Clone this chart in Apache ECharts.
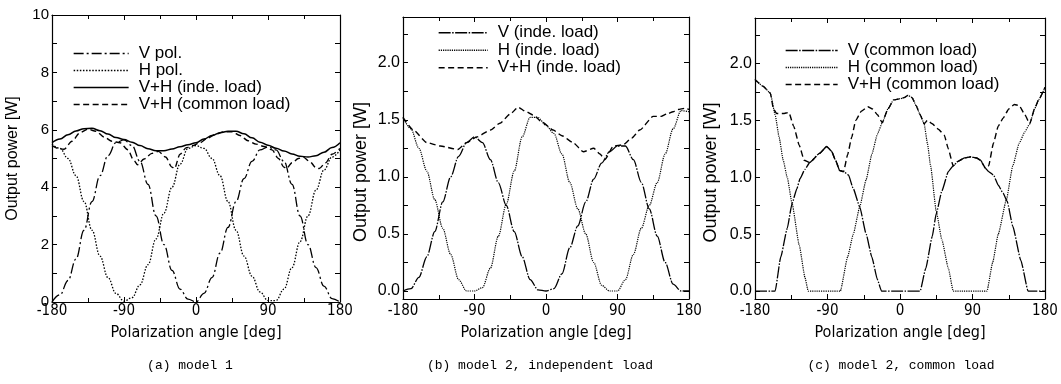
<!DOCTYPE html>
<html>
<head>
<meta charset="utf-8">
<script src="https://cdn.jsdelivr.net/npm/echarts@6/dist/echarts.min.js"></script>
<style>
  html, body { margin: 0; padding: 0; background: #fff; }
  #chart { width: 1061px; height: 384px; }
</style>
</head>
<body>
<div id="chart"></div>
<script>
// Polarization angle grid (deg) shared by the 10-degree sampled curves
const angles = [-180, -170, -160, -150, -140, -130, -120, -110, -100, -90, -80, -70, -60, -50, -40, -30, -20, -10,
  0, 10, 20, 30, 40, 50, 60, 70, 80, 90, 100, 110, 120, 130, 140, 150, 160, 170, 180];

// (a) model 1
const vPolA = [0, 0.25, 0.75, 1.5, 2.5, 3.5, 4.4, 5.1, 5.55, 5.65, 5.45, 4.9, 4.1, 3.0, 2.0, 1.1, 0.45, 0.1,
  0.0, 0.3, 0.85, 1.7, 2.6, 3.5, 4.3, 4.9, 5.3, 5.4, 5.3, 4.9, 4.1, 3.0, 2.0, 1.2, 0.55, 0.12, 0];
const hPolA = [5.5, 5.35, 5.0, 4.4, 3.5, 2.5, 1.6, 0.85, 0.3, 0.03, 0.15, 0.6, 1.3, 2.2, 3.1, 4.0, 4.8, 5.35,
  5.45, 5.35, 5.0, 4.4, 3.5, 2.5, 1.6, 0.9, 0.35, 0.05, 0.05, 0.45, 1.2, 2.1, 3.0, 3.9, 4.6, 5.05, 5.3];
const sumIndeA = [5.55, 5.68, 5.83, 5.96, 6.04, 6.05, 5.97, 5.85, 5.73, 5.66, 5.57, 5.45, 5.34, 5.27, 5.27, 5.33, 5.41, 5.48,
  5.55, 5.68, 5.8, 5.9, 5.95, 5.95, 5.86, 5.72, 5.57, 5.46, 5.36, 5.26, 5.16, 5.08, 5.05, 5.1, 5.22, 5.38, 5.55];
const sumCommonAngA = [-180, -170, -165, -155, -145, -135, -125, -115, -105, -95, -85, -78, -73, -65, -55, -47, -38, -30, -27, -20, -12, -4,
  5, 15, 25, 35, 45, 55, 65, 75, 85, 95, 103, 110, 113, 120, 128, 134, 142, 150, 154, 162, 170, 180];
const sumCommonA = [5.45, 5.33, 5.32, 5.6, 5.9, 6.02, 5.95, 5.75, 5.6, 5.55, 5.3, 4.95, 4.78, 4.98, 5.18, 5.25, 5.05, 4.7, 4.65, 5.15, 5.38, 5.45,
  5.55, 5.72, 5.85, 5.93, 5.93, 5.8, 5.62, 5.5, 5.42, 5.3, 5.0, 4.7, 4.65, 4.85, 5.0, 5.05, 4.9, 4.68, 4.65, 4.85, 5.15, 5.35];

// (b) model 2, independent load
const vIndeB = [0, 0.02, 0.12, 0.3, 0.52, 0.78, 1.0, 1.18, 1.3, 1.35, 1.3, 1.15, 0.95, 0.75, 0.52, 0.3, 0.1, 0.01,
  0, 0.02, 0.15, 0.38, 0.57, 0.78, 0.98, 1.12, 1.22, 1.27, 1.27, 1.15, 0.95, 0.72, 0.48, 0.25, 0.06, 0, 0];
const hIndeB = [1.52, 1.42, 1.25, 1.05, 0.8, 0.55, 0.32, 0.1, 0.0, 0, 0.03, 0.2, 0.48, 0.76, 1.05, 1.35, 1.52, 1.52,
  1.45, 1.38, 1.2, 0.95, 0.72, 0.5, 0.25, 0.05, 0, 0, 0.1, 0.32, 0.55, 0.75, 0.95, 1.2, 1.42, 1.58, 1.57];
const sumIndeAngB = [-180, -167, -150, -133, -111, -100, -87, -70, -58, -45, -35, -25, -16, -5, 9, 20,
  34, 47, 60, 68, 74, 85, 97, 108, 118, 135, 145, 152, 160, 166, 175, 180];
const sumIndeB = [1.52, 1.41, 1.3, 1.27, 1.24, 1.3, 1.35, 1.41, 1.47, 1.55, 1.61, 1.57, 1.54, 1.48, 1.41, 1.36,
  1.3, 1.22, 1.25, 1.2, 1.15, 1.27, 1.28, 1.34, 1.41, 1.53, 1.53, 1.55, 1.57, 1.59, 1.6, 1.59];

// (c) model 2, common load
const vAngC = [-180, -170, -160, -155, -148, -140, -134, -128, -124, -118, -112, -100, -91, -85, -80, -75, -70, -64, -58, -50, -42, -35, -28, -23,
  0, 25, 32, 40, 45, 52, 60, 66, 72, 80, 88, 95, 100, 106, 110, 116, 122, 128, 133, 140, 150, 159, 170, 180];
const vCommonC = [0, 0, 0, 0, 0.3, 0.55, 0.77, 0.9, 0.99, 1.07, 1.13, 1.21, 1.27, 1.23, 1.15, 1.06, 1.05, 1.02, 0.9, 0.74, 0.5, 0.3, 0.1, 0,
  0, 0, 0.2, 0.48, 0.68, 0.88, 1.05, 1.1, 1.14, 1.17, 1.18, 1.17, 1.15, 1.08, 1.05, 1.02, 0.93, 0.86, 0.79, 0.57, 0.27, 0, 0, 0];
const hAngC = [-180, -170, -161, -155, -150, -145, -140, -134, -125, -118, -114, -74, -65, -58, -50, -42, -35, -28, -22, -15, -8,
  0, 5, 10, 15, 20, 25, 30, 34, 38, 45, 52, 60, 66, 108, 115, 122, 132, 140, 148, 155, 161, 167, 172, 180];
const hCommonC = [1.86, 1.8, 1.74, 1.55, 1.35, 1.15, 1.0, 0.77, 0.4, 0.12, 0, 0, 0.3, 0.5, 0.74, 0.98, 1.2, 1.38, 1.48, 1.6, 1.68,
  1.69, 1.7, 1.72, 1.7, 1.63, 1.55, 1.47, 1.3, 1.1, 0.7, 0.45, 0.2, 0, 0, 0.25, 0.5, 0.8, 1.1, 1.3, 1.4, 1.47, 1.6, 1.68, 1.79];
const sumAngC = [-180, -170, -161, -157, -153, -145, -138, -132, -125, -119, -112, -100, -91, -85, -80, -75, -70, -65, -60, -55, -48, -40, -34, -28, -22, -15, -8,
  0, 5, 10, 15, 20, 25, 30, 34, 40, 48, 55, 60, 66, 72, 80, 88, 95, 100, 106, 110, 116, 122, 128, 135, 142, 148, 155, 161, 167, 172, 180];
const sumCommonC = [1.86, 1.8, 1.74, 1.6, 1.56, 1.56, 1.57, 1.45, 1.28, 1.15, 1.13, 1.21, 1.27, 1.23, 1.15, 1.06, 1.05, 1.2, 1.35, 1.5, 1.58, 1.62, 1.6, 1.55, 1.48, 1.6, 1.68,
  1.69, 1.7, 1.72, 1.7, 1.63, 1.55, 1.47, 1.5, 1.47, 1.42, 1.37, 1.25, 1.1, 1.14, 1.17, 1.18, 1.17, 1.15, 1.08, 1.1, 1.3, 1.45, 1.52, 1.6, 1.64, 1.63, 1.55, 1.47, 1.6, 1.68, 1.79];

// Tick values for the model 2 power axes
const yLabelsB = [0, 0.5, 1.0, 1.5, 2.0];
const yTicksB = [0, 0.25, 0.5, 0.75, 1.0, 1.25, 1.5, 1.75, 2.0, 2.25];

const captions = ['(a) model 1', '(b) model 2, independent load', '(c) model 2, common load'];

const SANS = '"Liberation Sans", Arial, sans-serif';
const NARROW = '"Liberation Sans Narrow", "DejaVu Sans Condensed", "Liberation Sans", sans-serif';
const MONO = '"Liberation Mono", "DejaVu Sans Mono", monospace';
const INK = '#000';

const DASH_DOT_A = [10, 3, 2, 3];
const DOTTED_A = [1.5, 1.6];
const DASH_DOT_B = [12, 1.5, 1.5, 1.5];
const DOTTED_B = [1.2, 1];
const DASHED = [6, 3.5];

const grids = [
  { left: 52, top: 15, width: 288, height: 287 },
  { left: 403, top: 17, width: 286, height: 282 },
  { left: 755, top: 18, width: 290, height: 281 }
];

const frameLine = { show: true, onZero: false, lineStyle: { color: INK, width: 1.2 } };
const tickStyle = { color: INK, width: 1 };

function xAxes(gi, labelMargin, nameGap) {
  const base = {
    type: 'value', gridIndex: gi, min: -180, max: 180, interval: 90,
    axisLine: frameLine, splitLine: { show: false },
    axisTick: { show: true, inside: true, length: 5, lineStyle: tickStyle },
    minorTick: { show: true, splitNumber: 2, length: 4, lineStyle: tickStyle }
  };
  return [
    Object.assign({}, base, {
      position: 'bottom',
      axisLabel: { margin: labelMargin, color: INK, fontSize: 15, fontFamily: NARROW },
      name: 'Polarization angle [deg]', nameLocation: 'middle', nameGap: nameGap,
      nameTextStyle: { color: INK, fontSize: 16, fontFamily: NARROW }
    }),
    Object.assign({}, base, { position: 'top', axisLabel: { show: false } })
  ];
}

function yAxesA() {
  const base = {
    type: 'value', gridIndex: 0, min: 0, max: 10, interval: 2,
    axisLine: frameLine, splitLine: { show: false },
    axisTick: { show: true, inside: true, length: 5, lineStyle: tickStyle },
    minorTick: { show: true, splitNumber: 2, length: 5, lineStyle: tickStyle }
  };
  return [
    Object.assign({}, base, {
      position: 'left',
      axisLabel: { margin: 3, color: INK, fontSize: 15, fontFamily: SANS },
      name: 'Output power [W]', nameLocation: 'middle', nameGap: 31, nameRotate: 90,
      nameTextStyle: { color: INK, fontSize: 16, fontFamily: SANS }
    }),
    Object.assign({}, base, { position: 'right', axisLabel: { show: false } })
  ];
}

function yAxesB(gi, nameGap) {
  const base = {
    type: 'value', gridIndex: gi, min: -0.07, max: 2.4,
    axisLine: frameLine, splitLine: { show: false },
    axisTick: { show: true, inside: true, length: 5, lineStyle: tickStyle, customValues: yTicksB }
  };
  return [
    Object.assign({}, base, {
      position: 'left',
      axisLabel: {
        margin: 3, color: INK, fontSize: 16, fontFamily: SANS,
        customValues: yLabelsB, formatter: v => Number(v).toFixed(1)
      },
      name: 'Output power [W]', nameLocation: 'middle', nameGap: nameGap, nameRotate: 90,
      nameTextStyle: { color: INK, fontSize: 18, fontFamily: SANS, padding: [0, 28, 0, 0] }
    }),
    Object.assign({}, base, { position: 'right', axisLabel: { show: false } })
  ];
}

function pairs(xs, ys) {
  return xs.map((x, i) => [x, ys[i]]);
}

function curve(name, gi, xs, ys, dash, width, smooth) {
  return {
    type: 'line', name: name,
    xAxisIndex: gi * 2, yAxisIndex: gi * 2,
    data: pairs(xs, ys),
    symbol: 'none', showSymbol: false,
    smooth: smooth, smoothMonotone: 'x',
    lineStyle: { color: INK, width: width, type: dash },
    emphasis: { disabled: true },
    animation: false
  };
}

const series = [
  curve('V pol.', 0, angles, vPolA, DASH_DOT_A, 1.3, 0.4),
  curve('H pol.', 0, angles, hPolA, DOTTED_A, 1.3, 0.4),
  curve('V+H (inde. load)', 0, angles, sumIndeA, 'solid', 1.5, 0.4),
  curve('V+H (common load)', 0, sumCommonAngA, sumCommonA, DASHED, 1.4, 0.3),

  curve('V (inde. load)', 1, angles, vIndeB, DASH_DOT_B, 1.3, 0.3),
  curve('H (inde. load)', 1, angles, hIndeB, DOTTED_B, 1.2, 0.3),
  curve('V+H (inde. load)', 1, sumIndeAngB, sumIndeB, DASHED, 1.4, 0.2),

  curve('V (common load)', 2, vAngC, vCommonC, DASH_DOT_B, 1.3, 0.15),
  curve('H (common load)', 2, hAngC, hCommonC, DOTTED_B, 1.2, 0.15),
  curve('V+H (common load)', 2, sumAngC, sumCommonC, DASHED, 1.4, 0.15)
];

function legend(left, top, itemWidth, rowHeight, data) {
  return {
    orient: 'vertical', left: left, top: top, padding: 0,
    itemWidth: itemWidth, itemHeight: 10, itemGap: 0,
    selectedMode: false,
    itemStyle: { color: 'transparent', borderColor: 'transparent', borderWidth: 0 },
    lineStyle: { width: 1.3 },
    textStyle: { color: INK, fontSize: 17, lineHeight: rowHeight, fontFamily: SANS, padding: [0, 0, 0, 5] },
    data: data
  };
}

const option = {
  backgroundColor: '#fff',
  animation: false,
  grid: grids.map(g => Object.assign({ outerBoundsMode: 'none', containLabel: false }, g)),
  xAxis: [].concat(xAxes(0, 2, 23), xAxes(1, 5, 26), xAxes(2, 5, 26)),
  yAxis: [].concat(yAxesA(), yAxesB(1, 33), yAxesB(2, 35)),
  legend: [
    legend(73, 45, 55, 15, ['V pol.', 'H pol.', 'V+H (inde. load)', 'V+H (common load)']),
    legend(438, 24, 49, 17.5, ['V (inde. load)', 'H (inde. load)',
      { name: 'V+H (inde. load)', lineStyle: { type: DASHED } }]),
    legend(785, 42, 52, 15, ['V (common load)', 'H (common load)', 'V+H (common load)'])
  ],
  graphic: [
    { type: 'text', x: 190, y: 366, style: { text: captions[0], align: 'center', verticalAlign: 'middle', fontSize: 13, fontFamily: MONO, fill: INK } },
    { type: 'text', x: 540, y: 366, style: { text: captions[1], align: 'center', verticalAlign: 'middle', fontSize: 13, fontFamily: MONO, fill: INK } },
    { type: 'text', x: 901, y: 366, style: { text: captions[2], align: 'center', verticalAlign: 'middle', fontSize: 13, fontFamily: MONO, fill: INK } }
  ],
  series: series
};

const chart = echarts.init(document.getElementById('chart'), null, { renderer: 'canvas' });
chart.setOption(option);
</script>
</body>
</html>
